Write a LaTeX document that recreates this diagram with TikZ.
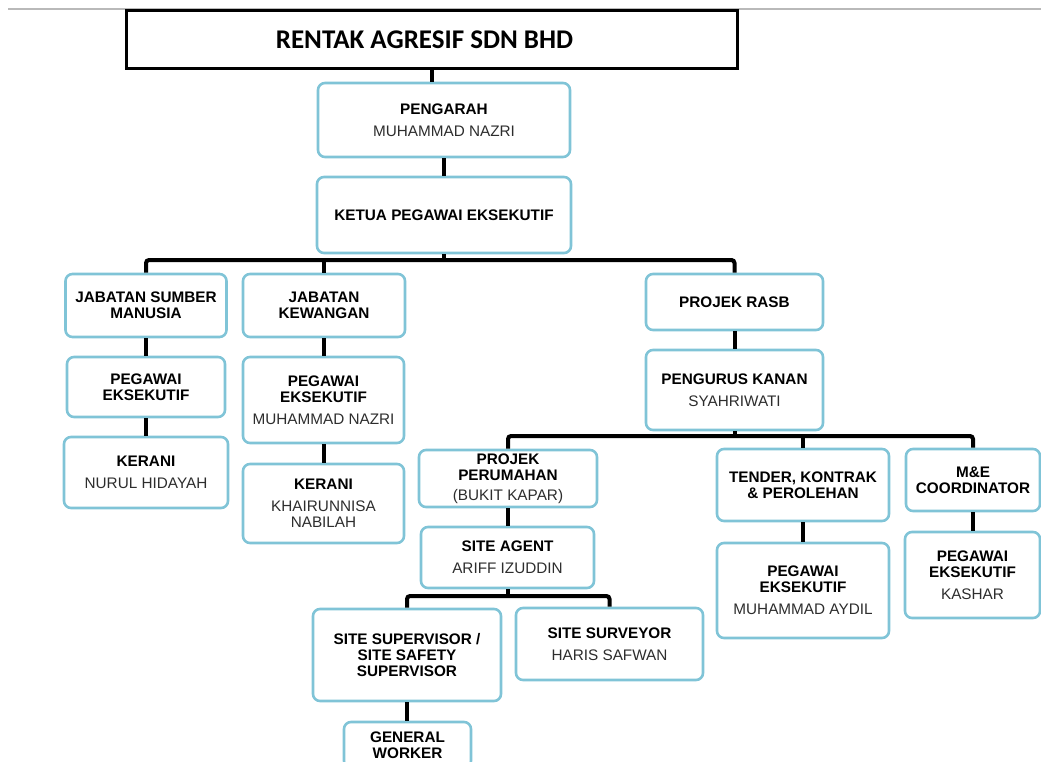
\documentclass[tikz,border=0pt]{standalone}
\usepackage{fontspec}
\setmainfont{Liberation Sans}
\newfontfamily\titlefont{Carlito}
\usepackage{xcolor}
\usepackage{tikz}
\usetikzlibrary{positioning}

\definecolor{boxblue}{RGB}{128,196,215}
\definecolor{namegray}{RGB}{45,45,45}

\newcommand{\nm}[1]{{\mdseries\color{namegray}#1}}

\tikzset{
  unit/.style={draw=boxblue, line width=2.6pt, rounded corners=7pt, fill=white,
    align=center, inner sep=1pt, font=\fontsize{15.3}{16}\selectfont\bfseries},
  link/.style={line width=4pt, black},
  bus/.style={line width=4pt, black, rounded corners=3pt},
}

\begin{document}
\begin{tikzpicture}[x=1pt, y=-1pt]
  \useasboundingbox (0,0) rectangle (1041,762);
  \clip (0,0) rectangle (1041,762);

  % page rule behind the title
  \draw[gray!55, line width=1.2pt] (8,9) -- (1041,9);

  % title
  \node[draw=black, line width=3pt, fill=white, minimum width=611pt, minimum height=58pt,
        font=\titlefont\fontsize{27}{30}\selectfont\bfseries] (title) at (431.5,40) {\hspace*{-14pt}RENTAK AGRESIF SDN BHD};

  % top of the chart
  \node[unit, minimum width=252pt, minimum height=74pt] (dir) at (444,120) {PENGARAH\\[6pt]\nm{MUHAMMAD NAZRI}};
  \node[unit, minimum width=254pt, minimum height=76pt] (ceo) at (444,215) {KETUA PEGAWAI EKSEKUTIF};

  % departments
  \node[unit, minimum width=161pt, minimum height=63pt] (hr) at (146,305.5) {JABATAN SUMBER\\MANUSIA};
  \node[unit, minimum width=158pt, minimum height=60pt] (hrexec) at (146,387) {PEGAWAI\\EKSEKUTIF};
  \node[unit, minimum width=164pt, minimum height=71pt] (hrclerk) at (146,472.5) {KERANI\\[6pt]\nm{NURUL HIDAYAH}};

  \node[unit, minimum width=162pt, minimum height=63pt] (fin) at (324,305.5) {JABATAN\\KEWANGAN};
  \node[unit, minimum width=161pt, minimum height=86pt] (finexec) at (323.5,400) {PEGAWAI\\EKSEKUTIF\\[6pt]\nm{MUHAMMAD NAZRI}};
  \node[unit, minimum width=161pt, minimum height=79pt] (finclerk) at (323.5,503.5) {KERANI\\[6pt]\nm{KHAIRUNNISA}\\\nm{NABILAH}};

  \node[unit, minimum width=177pt, minimum height=56pt] (rasb) at (734.5,302) {PROJEK RASB};
  \node[unit, minimum width=177pt, minimum height=80pt] (senior) at (734.5,390) {PENGURUS KANAN\\[6pt]\nm{SYAHRIWATI}};

  % projects
  \node[unit, minimum width=178pt, minimum height=57pt] (housing) at (508,478.5) {PROJEK\\PERUMAHAN\\[4pt]\nm{(BUKIT KAPAR)}};
  \node[unit, minimum width=173pt, minimum height=61pt] (agent) at (507.5,557.5) {SITE AGENT\\[6pt]\nm{ARIFF IZUDDIN}};
  \node[unit, minimum width=188pt, minimum height=92pt] (supervisor) at (407,655) {SITE SUPERVISOR /\\SITE SAFETY\\SUPERVISOR};
  \node[unit, minimum width=187pt, minimum height=72pt] (surveyor) at (609.5,644) {SITE SURVEYOR\\[6pt]\nm{HARIS SAFWAN}};
  \node[unit, minimum width=127pt, minimum height=46pt] (worker) at (407.5,745) {GENERAL\\WORKER};

  \node[unit, minimum width=172pt, minimum height=72pt] (tender) at (803,485) {TENDER, KONTRAK\\\& PEROLEHAN};
  \node[unit, minimum width=172pt, minimum height=95pt] (tenexec) at (803,590.5) {PEGAWAI\\EKSEKUTIF\\[6pt]\nm{MUHAMMAD AYDIL}};
  \node[unit, minimum width=134pt, minimum height=62pt] (mne) at (973,480) {M\&E\\COORDINATOR};
  \node[unit, minimum width=135pt, minimum height=86pt] (mneexec) at (972.5,575) {PEGAWAI\\EKSEKUTIF\\[6pt]\nm{KASHAR}};

  % bus heights
  \coordinate (busA) at (0,260);
  \coordinate (busB) at (0,436);
  \coordinate (busC) at (0,596);

  % straight links
  \draw[link] (title.south) -- (title.south |- dir.north);
  \draw[link] (dir.south) -- (dir.south |- ceo.north);
  \draw[link] (hr.south) -- (hr.south |- hrexec.north);
  \draw[link] (hrexec.south) -- (hrexec.south |- hrclerk.north);
  \draw[link] (fin.south) -- (fin.south |- finexec.north);
  \draw[link] (finexec.south) -- (finexec.south |- finclerk.north);
  \draw[link] (rasb.south) -- (rasb.south |- senior.north);
  \draw[link] (housing.south) -- (housing.south |- agent.north);
  \draw[link] (supervisor.south) -- (supervisor.south |- worker.north);
  \draw[link] (tender.south) -- (tender.south |- tenexec.north);
  \draw[link] (mne.south) -- (mne.south |- mneexec.north);

  % branch buses
  \draw[link] (ceo.south) -- (ceo.south |- busA);
  \draw[bus] (hr.north) -- (hr.north |- busA) -- (rasb.north |- busA) -- (rasb.north);
  \draw[link] (fin.north) -- (fin.north |- busA);

  \draw[link] (senior.south) -- (senior.south |- busB);
  \draw[bus] (housing.north) -- (housing.north |- busB) -- (mne.north |- busB) -- (mne.north);
  \draw[link] (tender.north) -- (tender.north |- busB);

  \draw[link] (agent.south) -- (agent.south |- busC);
  \draw[bus] (supervisor.north) -- (supervisor.north |- busC) -- (surveyor.north |- busC) -- (surveyor.north);
\end{tikzpicture}
\end{document}
